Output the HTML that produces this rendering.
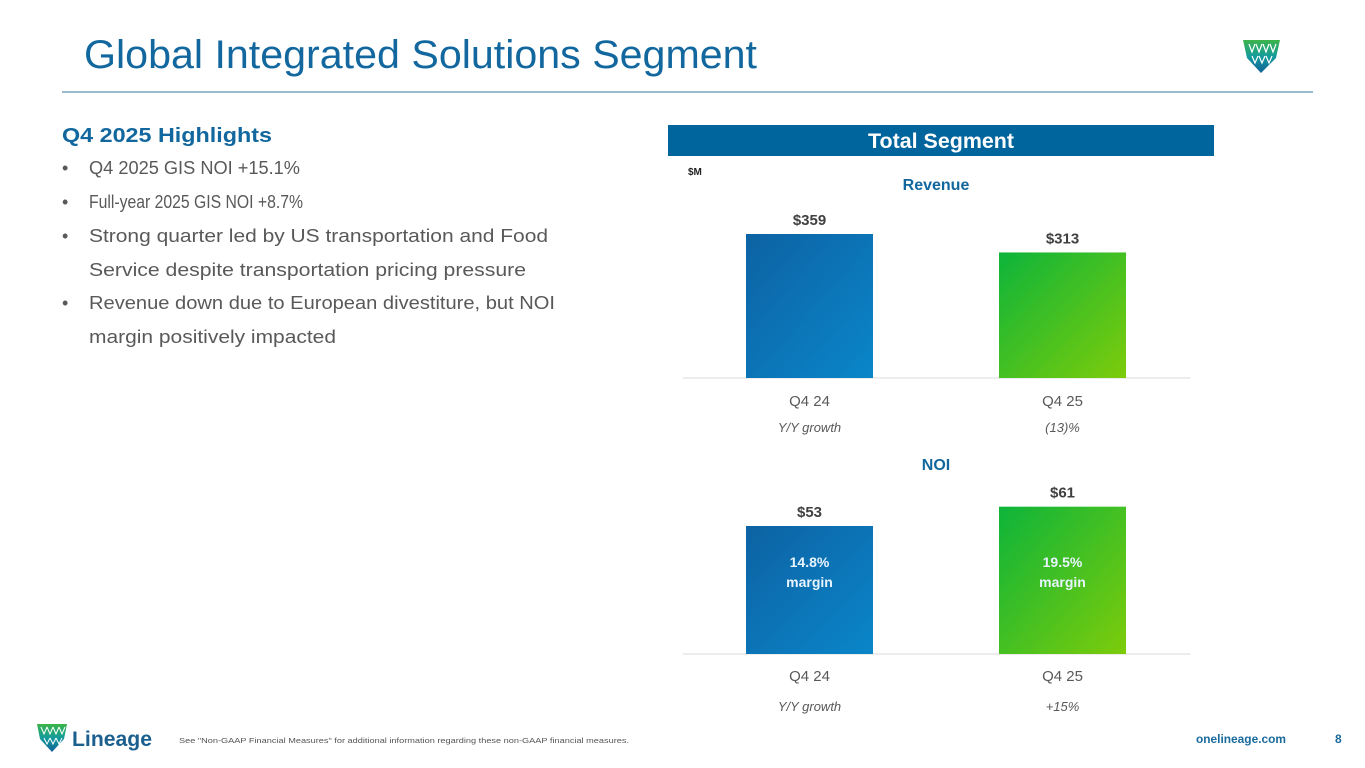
<!DOCTYPE html>
<html><head><meta charset="utf-8">
<style>
html,body{margin:0;padding:0;background:#fff;}
svg{display:block;font-family:"Liberation Sans",sans-serif;}
</style></head>
<body>
<svg id="page" width="1365" height="768" viewBox="0 0 1365 768" xmlns="http://www.w3.org/2000/svg">
<defs>
<linearGradient id="gBlue" x1="0" y1="0" x2="1" y2="1"><stop offset="0" stop-color="#0d62a3"/><stop offset="1" stop-color="#0a86c9"/></linearGradient>
<linearGradient id="gGreen" x1="0" y1="0" x2="1" y2="1"><stop offset="0" stop-color="#0db43a"/><stop offset="1" stop-color="#7dcc0a"/></linearGradient>
<linearGradient id="gLogo" x1="0" y1="0" x2="0" y2="1"><stop offset="0" stop-color="#3cb44a"/><stop offset="0.5" stop-color="#139c9c"/><stop offset="1" stop-color="#135f98"/></linearGradient>
</defs>
<text x="84" y="68" font-size="40" fill="#12689e" textLength="673" lengthAdjust="spacingAndGlyphs">Global Integrated Solutions Segment</text>
<line x1="62" y1="92" x2="1313" y2="92" stroke="#7aa6bd" stroke-width="1.5"/>
<g>
<path d="M1243,40 L1280,40 L1276,58 L1261,73 L1247,58 Z" fill="url(#gLogo)"/>
<path d="M1249,44 l3,8 l3,-8 M1256,44 l3,8 l3,-8 M1263,44 l3,8 l3,-8 M1270,44 l3,8 l3,-8 M1252,56 l3,7 l3,-7 M1259,56 l3,7 l3,-7 M1266,56 l3,7 l3,-7" stroke="#fff" stroke-width="1.2" fill="none"/>
</g>
<text x="62" y="142" font-size="20" font-weight="bold" fill="#12689e" textLength="210" lengthAdjust="spacingAndGlyphs">Q4 2025 Highlights</text>
<g font-size="18" fill="#595959">
<text x="62" y="174">•</text><text x="89" y="174" textLength="211" lengthAdjust="spacingAndGlyphs">Q4 2025 GIS NOI +15.1%</text>
<text x="62" y="208">•</text><text x="89" y="208" textLength="214" lengthAdjust="spacingAndGlyphs">Full-year 2025 GIS NOI +8.7%</text>
<text x="62" y="242">•</text><text x="89" y="242" textLength="459" lengthAdjust="spacingAndGlyphs">Strong quarter led by US transportation and Food</text>
<text x="89" y="276" textLength="437" lengthAdjust="spacingAndGlyphs">Service despite transportation pricing pressure</text>
<text x="62" y="309">•</text><text x="89" y="309" textLength="466" lengthAdjust="spacingAndGlyphs">Revenue down due to European divestiture, but NOI</text>
<text x="89" y="343" textLength="247" lengthAdjust="spacingAndGlyphs">margin positively impacted</text>
</g>
<rect x="668" y="125" width="546" height="31" fill="#00659c"/>
<text x="941" y="148" font-size="21" font-weight="bold" fill="#fff" text-anchor="middle" textLength="146" lengthAdjust="spacingAndGlyphs">Total Segment</text>
<text x="688" y="175" font-size="10" font-weight="bold" fill="#222">$M</text>
<text x="936" y="190" font-size="16" font-weight="bold" fill="#12689e" text-anchor="middle">Revenue</text>
<text x="936" y="470" font-size="16" font-weight="bold" fill="#12689e" text-anchor="middle">NOI</text>
<g id="charts"></g>
<g>
<path d="M37,724 L67,724 L64,739 L52,752 L40,739 Z" fill="url(#gLogo)"/>
<path d="M41,727 l3,7 l3,-7 M47,727 l3,7 l3,-7 M53,727 l3,7 l3,-7 M59,727 l3,7 l3,-7 M44,738 l3,6 l3,-6 M50,738 l3,6 l3,-6 M56,738 l3,6 l3,-6" stroke="#fff" stroke-width="1" fill="none"/>
<text x="72" y="746" font-size="21" font-weight="bold" fill="#1a5f8e" textLength="80" lengthAdjust="spacingAndGlyphs">Lineage</text>
</g>
<text x="179" y="743" font-size="7.5" fill="#555" textLength="450" lengthAdjust="spacingAndGlyphs">See "Non-GAAP Financial Measures" for additional information regarding these non-GAAP financial measures.</text>
<text x="1196" y="743" font-size="12" font-weight="bold" fill="#1a6a9e" textLength="90" lengthAdjust="spacingAndGlyphs">onelineage.com</text>
<text x="1335" y="743" font-size="12" font-weight="bold" fill="#1a6a9e">8</text>
</svg>
<script>
const categories = ["Q4 24", "Q4 25"];
const revenueValues = [359, 313];
const noiValues = [53, 61];
const noiMargins = ["14.8%", "19.5%"];
const revenueGrowth = ["Y/Y growth", "(13)%"];
const noiGrowth = ["Y/Y growth", "+15%"];

const NS = "http://www.w3.org/2000/svg";
const g = document.getElementById("charts");
function mk(tag, attrs, text) {
  const e = document.createElementNS(NS, tag);
  for (const k in attrs) e.setAttribute(k, attrs[k]);
  if (text !== undefined) e.textContent = text;
  g.appendChild(e);
  return e;
}
const fills = ["url(#gBlue)", "url(#gGreen)"];
function xBand(i) { return 746 + i * 253; }
const barW = 127;
function yRev(v) { return 378 - v * (144 / 359); }
function yNoi(v) { return 654 - v * (128 / 53); }

function drawChart(prefix, values, yFn, base, catY, growY, growth, margins) {
  const ax = mk("line", {x1: 683, y1: base, x2: 1190, y2: base, stroke: "#d9d9d9", "stroke-width": 1});
  
  
  values.forEach((v, i) => {
    const x = xBand(i), y = yFn(v), cx = x + barW / 2;
    const r = mk("rect", {x: x, y: y, width: barW, height: base - y, fill: fills[i]});
    
    
    const t = mk("text", {x: cx, y: y - 9, "font-size": 15, "font-weight": "bold", fill: "#404040", "text-anchor": "middle"}, "$" + v);
    
    
    const c = mk("text", {x: cx, y: catY, "font-size": 15, fill: "#595959", "text-anchor": "middle"}, categories[i]);
    
    
    const gr = mk("text", {x: cx, y: growY, "font-size": 13, "font-style": "italic", fill: "#595959", "text-anchor": "middle"}, growth[i]);
    
    
    if (margins) {
      const m1 = mk("text", {x: cx, y: 567, "font-size": 14, "font-weight": "bold", fill: "#e8f4ff", "text-anchor": "middle"}, margins[i]);
      
      
      const m2 = mk("text", {x: cx, y: 587, "font-size": 14, "font-weight": "bold", fill: "#e8f4ff", "text-anchor": "middle"}, "margin");
      
      
    }
  });
}
drawChart("revenue", revenueValues, yRev, 378, 406, 432, revenueGrowth, null);
drawChart("noi", noiValues, yNoi, 654, 681, 711, noiGrowth, noiMargins);
</script>
</body></html>
